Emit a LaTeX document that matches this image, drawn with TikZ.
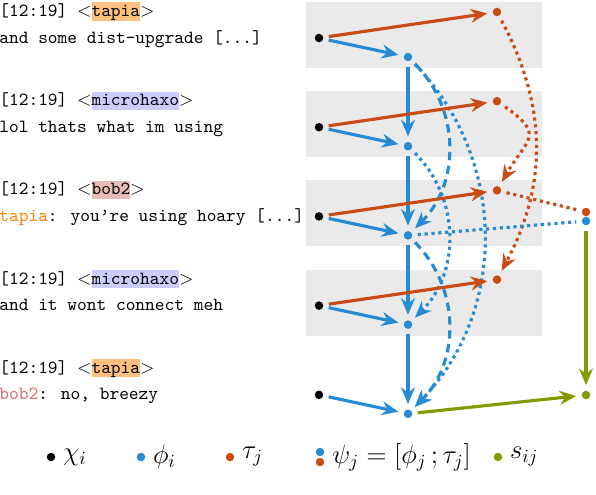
\documentclass[tikz,border=0pt]{standalone}
\usetikzlibrary{arrows.meta,positioning}

\definecolor{solblue}{RGB}{38,139,210}
\definecolor{solorange}{RGB}{203,75,22}
\definecolor{solgreen}{RGB}{133,153,0}
\definecolor{bandgray}{RGB}{234,234,234}
\definecolor{tapiabg}{RGB}{255,192,128}
\definecolor{microbg}{RGB}{204,204,255}
\definecolor{bobbg}{RGB}{232,188,182}
\definecolor{tapiafg}{RGB}{255,128,0}
\definecolor{bobfg}{RGB}{217,108,108}

\setlength{\fboxsep}{0pt}
\newcommand{\nick}[2]{\colorbox{#1}{\rule[-2.2pt]{0pt}{9.8pt}#2}}

\tikzset{
	pfeil/.style={-{Stealth[length=9pt,width=7.5pt,inset=3pt]}},
	punkt/.style={circle,inner sep=0pt,minimum size=4.6pt,outer sep=3pt},
	chipt/.style={punkt,fill=black},
	phipt/.style={punkt,fill=solblue},
	taupt/.style={punkt,fill=solorange},
	spt/.style={punkt,fill=solgreen},
	blau/.style={solblue,line width=1.7pt},
	rot/.style={solorange,line width=1.7pt},
	gruen/.style={solgreen,line width=1.7pt,pfeil},
	strich/.style={dash pattern=on 4.5pt off 3pt},
	kopf/.style={anchor=base west,inner sep=0pt,font=\ttfamily},
	legtext/.style={inner sep=0pt,font=\fontsize{13.8pt}{16pt}\selectfont},
	band/.style={fill=bandgray}
}

\begin{document}
\begin{tikzpicture}[x=0.54pt,y=-0.54pt]
\useasboundingbox (0,0) rectangle (596,494);

%Zeile 1
\begin{scope}[shift={(0,0)}]
\fill[band] (306,2) rectangle (542,68);
\node[kopf] (h1) at (-1,16.5) {[12:19]~$<$\nick{tapiabg}{tapia}$>$};
\node[kopf] (m1) at (-1,43) {and some dist-upgrade [...]};
\node[chipt] (c1) at (319,38) {};
\node[phipt] (f1) at (408,57) {};
\node[taupt] (t1) at (497,12) {};
\end{scope}

%Zeile 2
\begin{scope}[shift={(0,89.2)}]
\fill[band] (306,2) rectangle (542,68);
\node[kopf] (h2) at (-1,16.5) {[12:19]~$<$\nick{microbg}{microhaxo}$>$};
\node[kopf] (m2) at (-1,43) {lol thats what im using};
\node[chipt] (c2) at (319,38) {};
\node[phipt] (f2) at (408,57) {};
\node[taupt] (t2) at (497,12) {};
\end{scope}

%Zeile 3
\begin{scope}[shift={(0,178.4)}]
\fill[band] (306,2) rectangle (542,68);
\node[kopf] (h3) at (-1,16.5) {[12:19]~$<$\nick{bobbg}{bob2}$>$};
\node[kopf] (m3) at (-1,43) {\textcolor{tapiafg}{tapia}: you’re using hoary [...]};
\node[chipt] (c3) at (319,38) {};
\node[phipt] (f3) at (408,57) {};
\node[taupt] (t3) at (497,12) {};
\end{scope}

%Zeile 4
\begin{scope}[shift={(0,267.6)}]
\fill[band] (306,2) rectangle (542,68);
\node[kopf] (h4) at (-1,16.5) {[12:19]~$<$\nick{microbg}{microhaxo}$>$};
\node[kopf] (m4) at (-1,43) {and it wont connect meh};
\node[chipt] (c4) at (319,38) {};
\node[phipt] (f4) at (408,57) {};
\node[taupt] (t4) at (497,12) {};
\end{scope}

%Zeile 5
\begin{scope}[shift={(0,356.8)}]
\node[kopf] (h5) at (-1,16.5) {[12:19]~$<$\nick{tapiabg}{tapia}$>$};
\node[kopf] (m5) at (-1,43) {\textcolor{bobfg}{bob2}: no, breezy};
\node[chipt] (c5) at (319,38) {};
\node[phipt] (f5) at (408,57) {};
\end{scope}

%psi und s
\node[taupt] (po) at (586,212) {};
\node[phipt] (pb) at (586,221) {};
\node[spt] (s) at (586,395) {};

%Kanten
\draw[blau,strich,pfeil] (f1) to[bend left=45] (f3);
\draw[blau,strich,pfeil] (f3) to[bend left=45] (f5);
\draw[blau,dotted,pfeil] (f2) to[bend left=45] (f4);
\draw[blau,dotted,pfeil] (f1) to[bend left=44] (f5);
\draw[rot,dotted,pfeil] (t1) to[bend left=28] (t4);
\draw[rot,dotted,pfeil] (t2) to[out=-35,in=60,looseness=1.7] (t3);
\draw[rot,dotted] (t3) -- (po);
\draw[blau,dotted] (f3) -- (pb);

\draw[blau,pfeil] (f1) -- (f2);
\draw[blau,pfeil] (f2) -- (f3);
\draw[blau,pfeil] (f3) -- (f4);
\draw[blau,pfeil] (f4) -- (f5);

\draw[blau,pfeil] (c1) -- (f1);
\draw[blau,pfeil] (c2) -- (f2);
\draw[blau,pfeil] (c3) -- (f3);
\draw[blau,pfeil] (c4) -- (f4);
\draw[blau,pfeil] (c5) -- (f5);

\draw[rot,pfeil] (c1) -- (t1);
\draw[rot,pfeil] (c2) -- (t2);
\draw[rot,pfeil] (c3) -- (t3);
\draw[rot,pfeil] (c4) -- (t4);

\draw[gruen] (pb) -- (s);
\draw[gruen] (f5) -- (s);

%Legende
\node[chipt] (lc) at (51,457) {};
\node[legtext,right=1pt of lc] (lct) {$\chi_i$};
\node[phipt] (lf) at (141,457) {};
\node[legtext,right=1pt of lf] (lft) {$\phi_i$};
\node[taupt] (lt) at (230,457) {};
\node[legtext,right=1pt of lt] (ltt) {$\tau_j$};
\node[phipt] (lpb) at (320,452) {};
\node[taupt] (lpo) at (320,462) {};
\node[legtext,anchor=west] (lpt) at (332,457) {$\psi_j = [\phi_j\,;\tau_j]$};
\node[spt] (ls) at (498,457) {};
\node[legtext,right=1pt of ls] (lst) {$s_{ij}$};

\end{tikzpicture}
\end{document}
